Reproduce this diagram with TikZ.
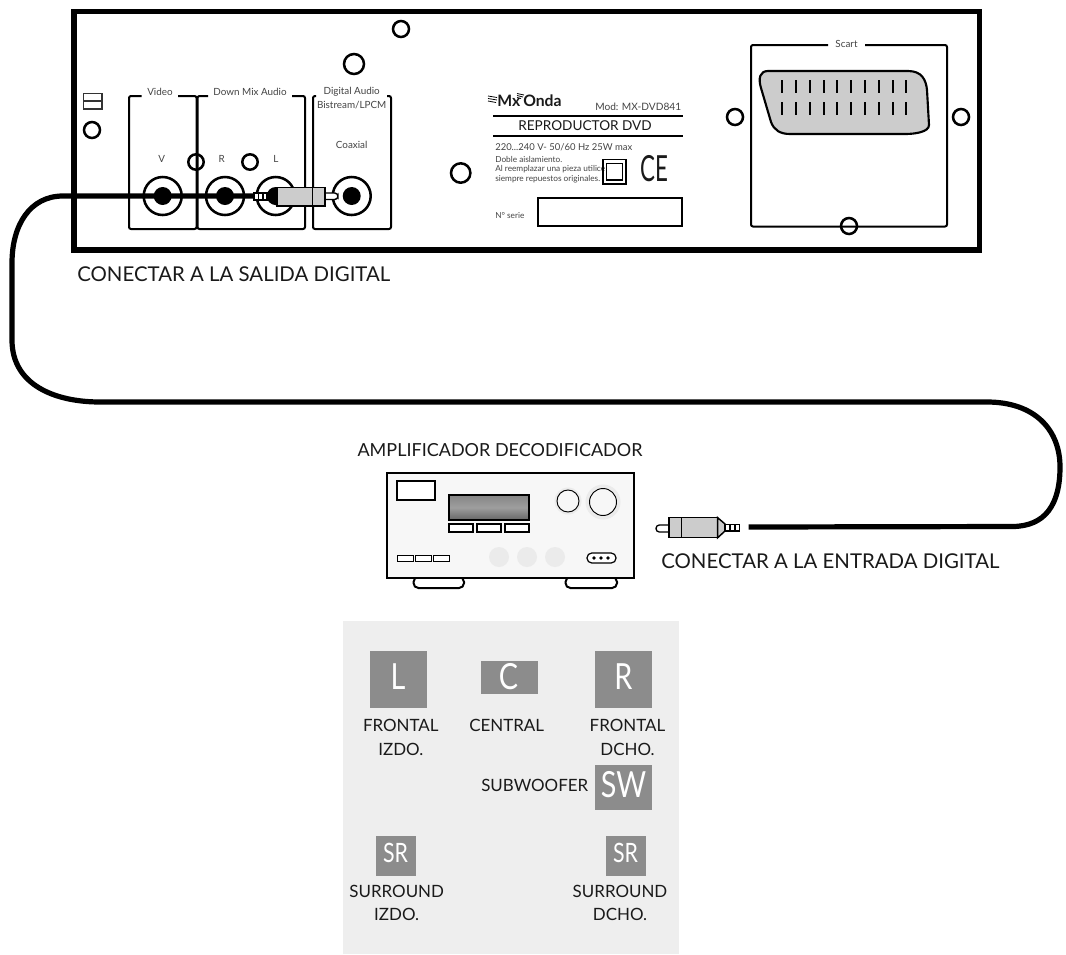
\documentclass[tikz,border=0pt]{standalone}
\usepackage{fontspec}
\setmainfont{Lato}
\usetikzlibrary{calc}
\definecolor{plate}{HTML}{CCCCCC}
\definecolor{panel}{HTML}{EEEEEE}
\definecolor{spk}{HTML}{8C8C8C}
\definecolor{ink}{HTML}{1A1A1A}
\definecolor{soft}{HTML}{444444}
\newcommand{\fpx}[1]{\fontsize{#1}{#1}\selectfont}
\tikzset{
  x=0.75pt,y=-0.75pt,
  frameline/.style={line width=4.1pt,draw=black},
  boxline/.style={line width=1.5pt,draw=black,rounded corners=1.5pt},
  hole/.style={line width=1.9pt,draw=black,fill=none},
  cable/.style={line width=3.9pt,draw=black},
  thinl/.style={line width=1pt,draw=black},
  bigtxt/.style={font=\fpx{15.3},text=ink,inner sep=0pt,align=center},
  spktxt/.style={font=\fpx{12.7},text=ink,inner sep=0pt,align=center},
  tiny/.style={font=\fpx{7.4},text=soft,inner sep=0pt,align=center},
  tinyer/.style={font=\fpx{6.2},text=soft,inner sep=0pt,align=left,anchor=west},
  spkbox/.style={fill=spk,draw=none},
  spklet/.style={text=white,inner sep=0pt,xscale=0.8},
  foot/.style={line width=1.5pt,fill=white,rounded corners=3.7pt},
}
\begin{document}
\begin{tikzpicture}
\useasboundingbox (0,0) rectangle (1066,954);
\fill[white] (0,0) rectangle (1066,954);

% ---- DVD rear frame
\draw[frameline] (74,11.5) rectangle (979.5,250);

% free holes
\foreach \cx/\cy/\r in {401/29/8, 354/64/10, 92/130/8, 196/162/7.7, 250/162/7.7, 460.7/173/9.7, 735/117/8, 961/117/8, 849/226/8}
  \draw[hole] (\cx,\cy) circle[radius=\r];

% small icon
\draw[line width=.9pt,draw=black!80] (83.5,93.5) rectangle (102,109) (83.5,101) -- (102,101);

% connector boxes
\draw[boxline] (141.5,96) -- (129,96) -- (129,229) -- (196.5,229) -- (196.5,96) -- (178,96);
\draw[boxline] (208,96) -- (197.5,96) -- (197.5,229) -- (305,229) -- (305,96) -- (292,96);
\draw[boxline] (316,96) -- (313,96) -- (313,229) -- (391,229) -- (391,96) -- (387,96);
\draw[boxline] (828,45) -- (751,45) -- (751,226.5) -- (947,226.5) -- (947,45) -- (865,45);

\node[tiny] (tvideo) at (160,92) {Video};
\node[tiny] (tdown) at (250,92) {Down Mix Audio};
\node[tiny] (tdigi) at (351.7,92) {Digital Audio};
\node[tiny] (tbis) at (351.7,105) {Bistream/LPCM};
\node[tiny] (tcoax) at (351.7,144.5) {Coaxial};
\node[tiny] (tv) at (161.7,159) {V};
\node[tiny] (tr) at (221.7,159) {R};
\node[tiny] (tl) at (276,159) {L};
\node[tiny] (tscart) at (846.5,43.5) {Scart};

% jacks
\foreach \cx in {162.7,225,275.7,351.7}{
  \draw[line width=1.9pt,draw=black] (\cx,196) circle[radius=19];
  \fill[black] (\cx,196) circle[radius=9];
}

% scart socket
\draw[line width=1.6pt,fill=plate,draw=black] (768,71)
  -- (908,71) .. controls (922,71) and (926,80) .. (927,90)
  -- (929,125) .. controls (929,132) and (915,134) .. (905,134)
  -- (790,134) .. controls (780,134) and (774,130) .. (771,122)
  -- (761,88) .. controls (758,78) and (760,71) .. (768,71) -- cycle;
\foreach \i in {0,...,9}{
  \draw[line width=1.5pt] ({782+13.83*\i},80) -- ({782+13.83*\i},93);
  \draw[line width=1.5pt] ({782+13.83*\i},102) -- ({782+13.83*\i},115);
}

% label plate
\node[font=\bfseries\fpx{11.8},text=ink,inner sep=0pt,anchor=west] (logo) at (497,100.5) {Mx\hspace{2.2pt}Onda};
\draw[line width=.6pt] (488,96) -- (497,97.5) (488,98.5) -- (497,100) (488,101) -- (496,102.5)
  (517,93.5) -- (524,95) (517,95.5) -- (523,97) (517,97.5) -- (521,98.5);
\node[font=\fpx{7.6},text=soft,inner sep=0pt,anchor=west] (tmod) at (595,107) {Mod: MX-DVD841};
\draw[line width=1.5pt] (493,115.7) -- (683,115.7) (493,136) -- (683,136);
\node[font=\fpx{10.2},text=ink,inner sep=0pt] (trep) at (585,126) {REPRODUCTOR DVD};
\node[font=\fpx{7.1},text=soft,inner sep=0pt,anchor=west] (tvolt) at (495,147.5) {220...240 V- 50/60 Hz 25W max};
\node[tinyer] (t1) at (495,159.5) {Doble aislamiento.};
\node[tinyer] (t2) at (495,168.7) {Al reemplazar una pieza utilice};
\node[tinyer] (t3) at (495,179) {siempre repuestos originales.};
\draw[line width=.8pt] (603,159.5) rectangle (626,184);
\draw[line width=1.1pt] (606.5,163.5) rectangle (622.5,180);
\node[font=\fpx{27},text=ink,inner sep=0pt,xscale=.62] (tce) at (654,169) {CE};
\node[tinyer] (tserie) at (495,216) {N° serie};
\draw[line width=1.6pt] (538,198) rectangle (682,226);

% ---- cable
\coordinate (plugA) at (254,196);
\coordinate (plugB) at (748.5,527);
\draw[cable] (plugA) -- (63,196) .. controls (30,196) and (12,225) .. (12,263)
  -- (12,340) .. controls (12,385) and (55,402) .. (100,402)
  -- (987,402) .. controls (1035,402) and (1060,430) .. (1060,467)
  .. controls (1060,505) and (1045,526) .. (1013,526.5) -- (plugB);

% plug on DVD side
\draw[line width=1pt,fill=white] (267,193) rectangle (254,200);
\draw[line width=.8pt] (258.5,192.5) -- (258.5,200.5) (263,192.5) -- (263,200.5);
\fill[black] (277,187) -- (268,192) -- (268,200) -- (277,206) -- cycle;
\draw[line width=1.1pt,fill=white,rounded corners=2.5pt] (325,193) -- (338,193) -- (338,199.5) -- (325,199.5);
\draw[line width=1.1pt,fill=plate] (277,187.5) rectangle (325,206);
\draw[line width=1.1pt] (312.5,187.5) -- (312.5,206);

% amplifier
\node[bigtxt,font=\fpx{13.5}] (tamp) at (500,450) {AMPLIFICADOR DECODIFICADOR};
\draw[foot] (413.5,577) rectangle (464,588);
\draw[foot] (565.5,577) rectangle (617,588);
\draw[line width=1.9pt,fill=black!3] (387,473) rectangle (634,578);
\draw[line width=.8pt,fill=white] (397,481) rectangle (435,500);
\shade[top color=black!48,bottom color=black!60,middle color=black!38] (449,495) rectangle (529,520);
\draw[line width=1.1pt] (449,495) rectangle (529,520);
\foreach \a/\b in {449/473,477/501,505/529}
  \draw[line width=1pt,fill=white] (\a,524) rectangle (\b,532);
\fill[black!8] (568,501) circle[radius=13.5] (603,502) circle[radius=17.5];
\draw[line width=.7pt,fill=black!3] (568,501) circle[radius=11];
\draw[line width=.7pt,fill=black!3] (603,502) circle[radius=13.5];
\foreach \cx in {499,527,555} \fill[black!8] (\cx,557) circle[radius=10];
\foreach \a/\b in {397/413,415/431,433/449}
  \draw[line width=.7pt,fill=white] (\a,555.5) rectangle (\b,561);
\draw[line width=.9pt,fill=white,rounded corners=3.6pt] (587,553) rectangle (616,563);
\foreach \cx in {594,601,608} \fill[black] (\cx,558) circle[radius=1.8];

% plug on amplifier side
\draw[line width=1pt,fill=white,rounded corners=2.5pt] (669,525) -- (656,525) -- (656,532) -- (669,532);
\draw[line width=1.1pt,fill=plate] (669,517.7) rectangle (717.7,537.7);
\draw[line width=1.1pt] (681.7,517.7) -- (681.7,537.7);
\draw[line width=1.1pt,fill=plate] (717.7,517.7) -- (725,524) -- (725,531) -- (717.7,537.7) -- cycle;
\draw[line width=1.1pt,fill=white] (725,524.5) rectangle (739.5,531);
\draw[line width=.9pt] (730,524.5) -- (730,531) (735,524.5) -- (735,531);

\node[bigtxt,anchor=west] (tin) at (661,561) {CONECTAR A LA ENTRADA DIGITAL};
\node[bigtxt,anchor=west] (tout) at (77,274) {CONECTAR A LA SALIDA DIGITAL};

% ---- speaker panel
\fill[panel] (343,621) rectangle (679,954);
\fill[spkbox] (370,651) rectangle (427,708);
\fill[spkbox] (481,661) rectangle (538,694);
\fill[spkbox] (595,651) rectangle (652,708);
\fill[spkbox] (595,765) rectangle (652,810);
\fill[spkbox] (376,836) rectangle (416,876);
\fill[spkbox] (606,836) rectangle (646,876);
\node[spklet,font=\fpx{27}] (sl) at (398,677) {L};
\node[spklet,font=\fpx{27}] (sc) at (508.5,677) {C};
\node[spklet,font=\fpx{27}] (sr) at (623.5,677) {R};
\node[spklet,font=\fpx{27}] (ssw) at (623.5,785) {SW};
\node[spklet,font=\fpx{20}] (ssr1) at (395.5,853) {SR};
\node[spklet,font=\fpx{20}] (ssr2) at (625.5,853) {SR};
\node[spktxt] (f1) at (400.8,725.5) {FRONTAL};
\node[spktxt] (f1b) at (400.8,749) {IZDO.};
\node[spktxt] (cen) at (506.7,725.5) {CENTRAL};
\node[spktxt] (f2) at (627.5,725.5) {FRONTAL};
\node[spktxt] (f2b) at (627.5,749) {DCHO.};
\node[spktxt,anchor=west] (sub) at (481,785.5) {SUBWOOFER};
\node[spktxt] (s1) at (396.7,891.7) {SURROUND};
\node[spktxt] (s1b) at (396.7,914) {IZDO.};
\node[spktxt] (s2) at (620,891.7) {SURROUND};
\node[spktxt] (s2b) at (620,914) {DCHO.};
\end{tikzpicture}
\end{document}
